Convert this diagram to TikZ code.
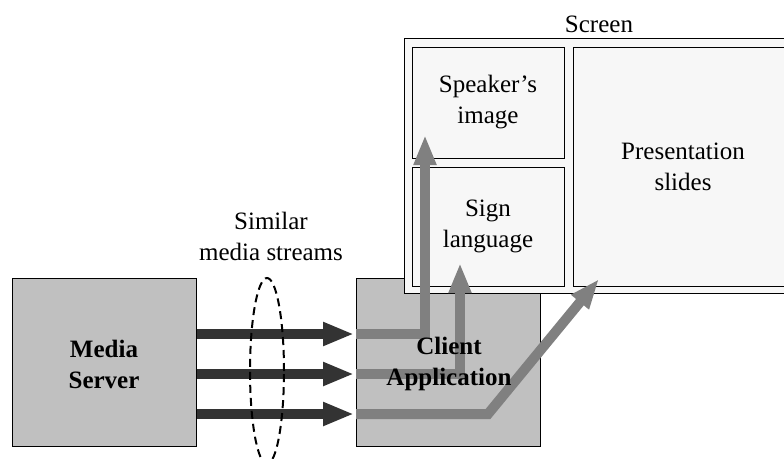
\documentclass[tikz,border=0pt]{standalone}
\usepackage{fontspec}
\setmainfont{Liberation Serif}
\usetikzlibrary{arrows.meta}
\usetikzlibrary{shapes.geometric}
\tikzset{>=latex}
\definecolor{boxgray}{HTML}{C0C0C0}
\definecolor{screenfill}{HTML}{F7F7F7}
\definecolor{streamdark}{HTML}{333333}
\definecolor{streamgray}{HTML}{808080}
\tikzset{
  hostbox/.style={draw=black, fill=boxgray, line width=1pt, minimum width=184pt, minimum height=168pt},
  panebox/.style={draw=black, fill=screenfill, line width=1pt, align=center},
  darkstream/.style={-{Triangle[length=31pt,width=22pt]}, streamdark, line width=10pt, shorten >=2pt},
  graystream/.style={-{Triangle[length=30pt,width=21pt]}, streamgray, line width=10pt},
  lbl/.style={align=center, font=\fontsize{25}{31}\selectfont}
}

\begin{document}
\begin{tikzpicture}[x=1pt,y=-1pt]
  \useasboundingbox (0,0) rectangle (784,458);
  \clip (0,0) rectangle (784,458);

  % the two hosts
  \node[hostbox] (server) at (104,362) {};
  \node[hostbox] (client) at (448.5,362) {};

  % screen with its three panes
  \node[panebox, minimum width=390pt, minimum height=255pt] (screen) at (599,165.5) {};
  \node[lbl, above] (screenlbl) at (599,36) {Screen};
  \node[panebox, minimum width=152pt, minimum height=111pt, lbl] (speaker) at (488,102.5) {Speaker's\\image};
  \node[panebox, minimum width=152pt, minimum height=119pt, lbl] (sign) at (488,226.5) {Sign\\language};
  \node[panebox, minimum width=220pt, minimum height=239pt, lbl] (slides) at (683,166.5) {Presentation\\slides};

  % media streams from the server
  \foreach \y in {334,374,414}
    \draw[darkstream] (server.east |- 0,\y) -- (client.west |- 0,\y);

  % streams inside the client, up to the panes
  \coordinate (tipspk) at (425,135);
  \coordinate (tipsgn) at (460,263);
  \coordinate (tipsld) at (599,279);
  \draw[graystream] (client.west |- 0,334) -| (tipspk);
  \draw[graystream] (client.west |- 0,374) -| (tipsgn);
  \draw[graystream] (client.west |- 0,414) -- (488,414) -- (tipsld);

  % grouping of the similar streams
  \node[draw, dash pattern=on 8pt off 5pt, line width=2pt, ellipse, minimum width=34pt, minimum height=186pt, inner sep=0pt] (group) at (267,371) {};
  \node[lbl] (grouplbl) at (271,236) {Similar\\media streams};

  \node[lbl, font=\fontsize{25}{31}\selectfont\bfseries] (serverlbl) at (104,364) {Media\\Server};
  \node[lbl, font=\fontsize{25}{31}\selectfont\bfseries] (clientlbl) at (449,364) {Client\\Application};
\end{tikzpicture}
\end{document}
